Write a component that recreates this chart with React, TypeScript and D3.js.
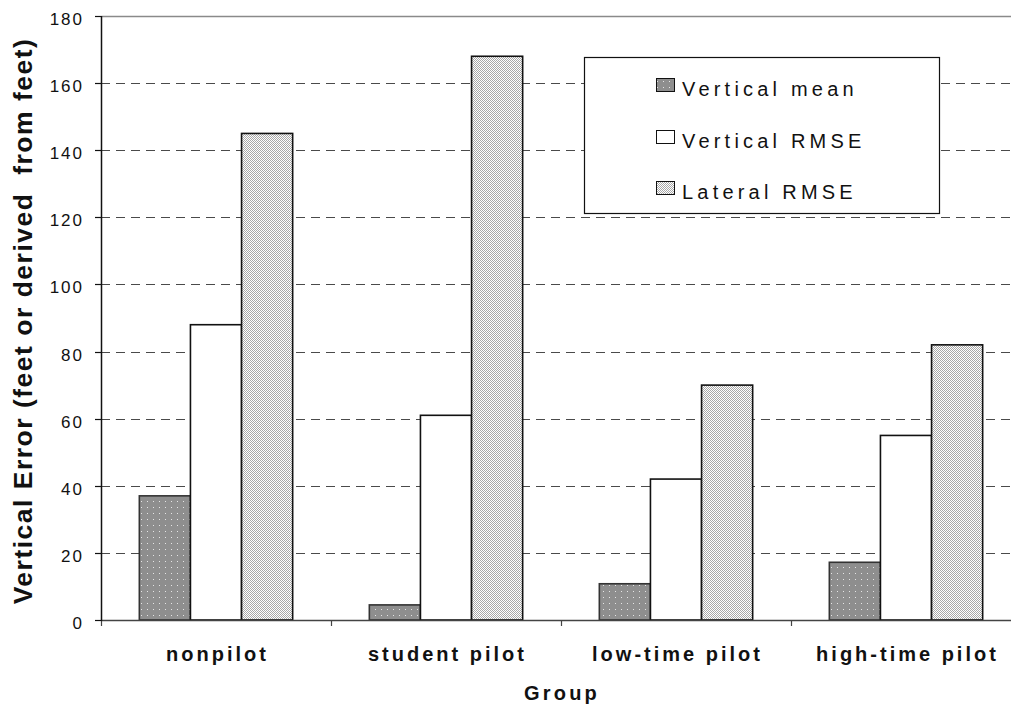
import React from 'react';
import * as d3 from 'd3';

const categories = ['nonpilot', 'student pilot', 'low-time pilot', 'high-time pilot'];
const seriesNames = ['Vertical mean', 'Vertical RMSE', 'Lateral RMSE'];
const verticalMean = [37, 4.5, 10.8, 17.2];
const verticalRMSE = [88, 61, 42, 55];
const lateralRMSE = [145, 168, 70, 82];
const yTicks = [0, 20, 40, 60, 80, 100, 120, 140, 160, 180];
const yTitle = 'Vertical Error (feet or derived  from feet)';
const xTitle = 'Group';

const W = 1011;
const H = 707;
const FONT = '"Liberation Sans", Arial, Helvetica, sans-serif';

export default function App() {
  const series = [verticalMean, verticalRMSE, lateralRMSE];
  const fills = ['url(#patMean)', '#ffffff', 'url(#patLat)'];
  const x = d3.scaleBand<string>().domain(categories).range([101, 1021]).paddingInner(0).paddingOuter(0);
  const xs = d3.scaleBand<string>().domain(seriesNames).range([0, x.bandwidth()]).paddingInner(0).paddingOuter(0.75);
  const y = d3.scaleLinear().domain([0, 180]).range([620, 16]);

  const legendX = 584;
  const legendY = 57;
  const legendRows = [96, 148, 199];

  return (
    <div style={{ position: 'absolute', left: 0, top: 0 }}>
      <svg width={W} height={H} style={{ display: 'block', background: '#fff' }}>
        <defs>
          <pattern id="patMean" patternUnits="userSpaceOnUse" width={6} height={6}>
            <rect width={6} height={6} fill="#8e8e8e" />
            <rect x={3} y={3} width={1} height={1} fill="#e6e6e6" />
          </pattern>
          <pattern id="patLat" patternUnits="userSpaceOnUse" width={2} height={2}>
            <rect width={2} height={2} fill="#ffffff" />
            <rect x={0} y={0} width={1} height={1} fill="#a8a8a8" />
            <rect x={1} y={1} width={1} height={1} fill="#a8a8a8" />
          </pattern>
        </defs>

        {/* plot top border */}
        <line x1={101} x2={W} y1={16.5} y2={16.5} stroke="#8a8a8a" strokeWidth={1.5} />

        {/* gridlines */}
        {yTicks.filter((t) => t > 0 && t < 180).map((t) => (
          <line key={'g' + t} x1={101} x2={W} y1={Math.round(y(t)) + 0.5} y2={Math.round(y(t)) + 0.5}
            stroke="#4a4a4a" strokeWidth={1.2} strokeDasharray="9 6" />
        ))}

        {/* bars */}
        {categories.map((c, i) => (
          <g key={c}>
            {series.map((s, j) => {
              const x0 = (x(c) as number) + (xs(seriesNames[j]) as number);
              const top = y(s[i]);
              return (
                <rect key={j} x={x0} y={top} width={xs.bandwidth()} height={y(0) - top}
                  fill={fills[j]} stroke={j === 0 ? '#333' : '#111'} strokeWidth={1.6} />
              );
            })}
          </g>
        ))}

        {/* x axis */}
        <line x1={101} x2={W} y1={620.5} y2={620.5} stroke="#444" strokeWidth={1.5} />
        {categories.map((c) => (
          <line key={'xt' + c} x1={(x(c) as number) + 0.5} x2={(x(c) as number) + 0.5} y1={620} y2={626} stroke="#444" strokeWidth={1.2} />
        ))}
        {categories.map((c) => (
          <text key={'xl' + c} x={(x(c) as number) + x.bandwidth() / 2 + 1.5} y={661} textAnchor="middle"
            fontFamily={FONT} fontSize={20} fontWeight="bold" letterSpacing={3} fill="#111">{c}</text>
        ))}
        <text x={562} y={700} textAnchor="middle" fontFamily={FONT} fontSize={20} fontWeight="bold" letterSpacing={3.2} fill="#111">{xTitle}</text>

        {/* y axis */}
        <line x1={101.5} x2={101.5} y1={16} y2={621} stroke="#111" strokeWidth={1.5} />
        {yTicks.map((t) => (
          <g key={'yt' + t}>
            <line x1={95} x2={101} y1={Math.round(y(t)) + 0.5} y2={Math.round(y(t)) + 0.5} stroke="#111" strokeWidth={1.2} />
            <text x={84} y={y(t) + 9} textAnchor="end" fontFamily={FONT} fontSize={17} letterSpacing={2} fill="#111">{t}</text>
          </g>
        ))}
        <text transform={`translate(32,321) rotate(-90)`} textAnchor="middle"
          fontFamily={FONT} fontSize={26.5} fontWeight="bold" letterSpacing={1.5} fill="#111" style={{ whiteSpace: 'pre' }}>{yTitle}</text>

        {/* legend */}
        <rect x={legendX + 0.5} y={legendY + 0.5} width={355} height={156} fill="#fff" stroke="#111" strokeWidth={1.2} />
        {seriesNames.map((n, j) => (
          <g key={'lg' + n}>
            <rect x={656.5} y={legendRows[j] - 17.5} width={18} height={13} fill={fills[j]} stroke="#111" strokeWidth={1} />
            <text x={682} y={legendRows[j]} fontFamily={FONT} fontSize={20} letterSpacing={4.2} fill="#111">{n}</text>
          </g>
        ))}
      </svg>
    </div>
  );
}
